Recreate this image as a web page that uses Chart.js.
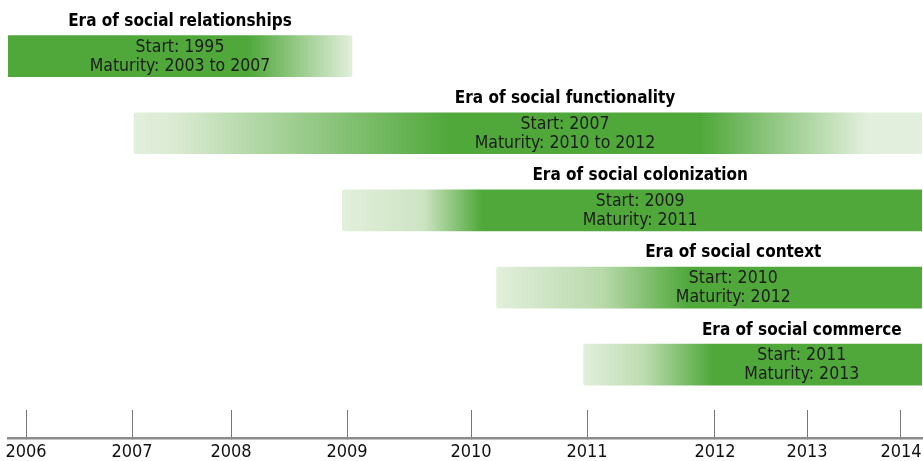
<!DOCTYPE html>
<html>
<head>
<meta charset="utf-8">
<script src="https://cdn.jsdelivr.net/npm/chart.js@4.4.1/dist/chart.umd.min.js"></script>
<style>
  html, body { margin: 0; padding: 0; background: #fff; }
</style>
</head>
<body>
<canvas id="eraChart" width="923" height="461"></canvas>
<script>
// data
const eras = ['Era of social relationships', 'Era of social functionality', 'Era of social colonization', 'Era of social context', 'Era of social commerce'];
const startYears = [1995, 2007, 2009, 2010, 2011];
const maturity = ['2003 to 2007', '2010 to 2012', '2011', '2012', '2013'];
const barFrom = [1995, 2007.02, 2008.96, 2010.22, 2010.97];
const barTo = [2009.04, 2014.5, 2014.5, 2014.5, 2014.5];
const tickYears = [2006, 2007, 2008, 2009, 2010, 2011, 2012, 2013, 2014];

// axis is not evenly spaced in the picture: share of the axis width per tick year
const tickFrac = [0.0197, 0.1357, 0.2440, 0.3709, 0.5066, 0.6335, 0.7735, 0.8742, 0.9770];

const SOLID = '#50a83b';
const PALE = '#e2efdc';
// gradient per bar, as fractions of the visible bar
const fades = [
    [[0, SOLID], [0.70, SOLID], [1, PALE]],
    [[0, PALE], [0.05, '#dbebd3'], [0.40, SOLID], [0.72, SOLID], [0.93, PALE], [1, PALE]],
    [[0, PALE], [0.14, '#cde4c3'], [0.24, SOLID], [1, SOLID]],
    [[0, PALE], [0.25, '#b8d9aa'], [0.45, SOLID], [1, SOLID]],
    [[0, PALE], [0.18, '#bddcb0'], [0.38, SOLID], [1, SOLID]]
];
const labelShift = [0, 37, 8, 24, 49];

const FONT = "'DejaVu Sans Condensed', 'Liberation Sans Narrow', 'Open Sans', sans-serif";

class StopScale extends Chart.LinearScale {
    static id = 'stops';
    static defaults = Chart.LinearScale.defaults;
    _frac(v) {
        let i = 0;
        while (i < tickYears.length - 2 && v > tickYears[i + 1]) i++;
        const v0 = tickYears[i], v1 = tickYears[i + 1];
        const f0 = tickFrac[i], f1 = tickFrac[i + 1];
        return f0 + (v - v0) * (f1 - f0) / (v1 - v0);
    }
    getPixelForValue(v) {
        return this.left + this._frac(v) * this.width;
    }
    getValueForPixel(p) {
        const f = (p - this.left) / this.width;
        let i = 0;
        while (i < tickFrac.length - 2 && f > tickFrac[i + 1]) i++;
        return tickYears[i] + (f - tickFrac[i]) * (tickYears[i + 1] - tickYears[i]) / (tickFrac[i + 1] - tickFrac[i]);
    }
}
Chart.register(StopScale);

// titles above and text inside the bars
const eraLabels = {
    id: 'eraLabels',
    afterDatasetsDraw(chart) {
        const ctx = chart.ctx;
        const area = chart.chartArea;
        chart.getDatasetMeta(0).data.forEach((bar, i) => {
            const a = Math.max(Math.min(bar.base, bar.x), area.left);
            const b = Math.min(Math.max(bar.base, bar.x), area.right);
            const cx = (a + b) / 2 + labelShift[i];
            const top = bar.y - bar.height / 2;
            ctx.save();
            ctx.textAlign = 'center';
            ctx.textBaseline = 'middle';
            ctx.fillStyle = '#000';
            ctx.font = 'bold 17px ' + FONT;
            ctx.fillText(eras[i], cx, top - 14);
            ctx.fillStyle = '#1c1c1c';
            ctx.font = '17.5px ' + FONT;
            ctx.fillText('Start: ' + startYears[i], cx, bar.y - 9);
            ctx.fillText('Maturity: ' + maturity[i], cx, bar.y + 10);
            ctx.restore();
        });
    }
};

new Chart(document.getElementById('eraChart'), {
    type: 'bar',
    data: {
        labels: eras,
        datasets: [{
            data: barFrom.map((v, i) => ({ x: [v, barTo[i]], y: i })),
            clip: 0,
            barThickness: 41,
            borderSkipped: false,
            borderRadius: 2,
            backgroundColor: (c) => {
                const chart = c.chart;
                const area = chart.chartArea;
                if (!area || c.dataIndex === undefined) return SOLID;
                const x = chart.scales.x;
                const i = c.dataIndex;
                const x0 = Math.max(x.getPixelForValue(barFrom[i]), area.left);
                const x1 = Math.min(x.getPixelForValue(barTo[i]), area.right);
                const g = chart.ctx.createLinearGradient(x0, 0, x1, 0);
                fades[i].forEach(([f, col]) => g.addColorStop(f, col));
                return g;
            }
        }]
    },
    options: {
        indexAxis: 'y',
        responsive: false,
        animation: false,
        layout: { padding: { top: 17.5, left: 8, right: 1, bottom: 0 } },
        plugins: { legend: { display: false }, tooltip: { enabled: false } },
        scales: {
            x: {
                type: 'stops',
                min: 2005.83,
                max: 2014.22,
                afterBuildTicks: (s) => { s.ticks = tickYears.map(v => ({ value: v })); },
                afterFit: (s) => { s.height = 23; s.paddingLeft = 0; s.paddingRight = 0; },
                grid: { drawOnChartArea: false, drawTicks: true, tickLength: -28, color: '#777', lineWidth: 1 },
                border: { display: true, color: '#8c8c8c', width: 2.5 },
                ticks: {
                    autoSkip: false,
                    maxRotation: 0,
                    padding: 32,
                    color: '#111',
                    font: { family: FONT, size: 18 },
                    callback: (v) => String(v)
                }
            },
            y: {
                type: 'linear',
                reverse: true,
                offset: false,
                min: -0.5,
                max: 4.95,
                display: false
            }
        }
    },
    plugins: [eraLabels]
});
</script>
</body>
</html>
